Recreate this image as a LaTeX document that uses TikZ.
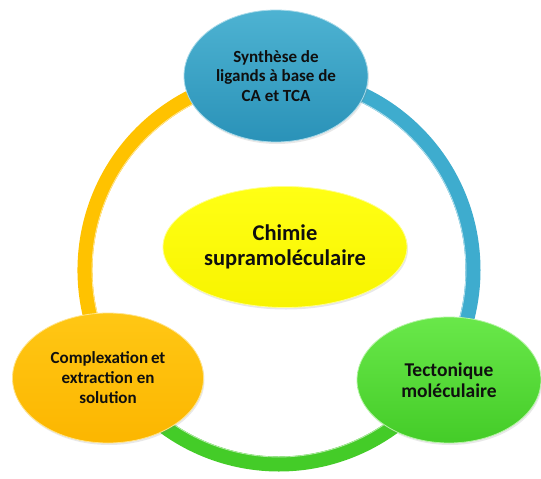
\documentclass[tikz,border=0pt]{standalone}
\usepackage{fontspec}
\setmainfont{Carlito}
\usetikzlibrary{shapes.geometric, shadows}
\definecolor{synblue}{RGB}{62, 172, 206}
\definecolor{synbluedk}{RGB}{42, 146, 184}
\definecolor{tecgreen}{RGB}{92, 230, 58}
\definecolor{tecgreendk}{RGB}{68, 204, 40}
\definecolor{comporange}{RGB}{255, 194, 0}
\definecolor{comporangedk}{RGB}{252, 182, 0}
\definecolor{chimyellow}{RGB}{255, 255, 0}
\definecolor{chimyellowdk}{RGB}{248, 244, 0}
\definecolor{inktext}{RGB}{15, 15, 15}
\tikzset{
  bubble/.style 2 args={ellipse, inner sep=0pt, align=center, text=inktext,
                        top color=#1!92!white, bottom color=#2, draw=white!55!#1, line width=0.8pt,
                        drop shadow={opacity=0.18, shadow xshift=1pt, shadow yshift=-2pt}},
  ringseg/.style={line width=15pt, color=#1},
  ringglow/.style={line width=0.8pt, color=white!60!#1},
}

\begin{document}
\begin{tikzpicture}[x=1pt, y=1pt]
  \useasboundingbox (0,0) rectangle (541,-479);
  \fill[white] (0,0) rectangle (541,-479);
  \coordinate (hub) at (279,-270);

  % ring
  \draw[ringseg=synblue] ([shift={(90:194)}]hub) arc[start angle=90, end angle=-33, radius=194];
  \draw[ringseg=tecgreendk] ([shift={(-33:194)}]hub) arc[start angle=-33, end angle=-148, radius=194];
  \draw[ringseg=comporange] ([shift={(-148:194)}]hub) arc[start angle=-148, end angle=-270, radius=194];
  \draw[ringglow=synblue] ([shift={(90:187)}]hub) arc[start angle=90, end angle=-33, radius=187];
  \draw[ringglow=tecgreendk] ([shift={(-33:187)}]hub) arc[start angle=-33, end angle=-148, radius=187];
  \draw[ringglow=comporange] ([shift={(-148:187)}]hub) arc[start angle=-148, end angle=-270, radius=187];

  % bubbles
  \node[bubble={synblue}{synbluedk}, minimum width=184, minimum height=132,
        font=\fontsize{17}{19.5}\selectfont\bfseries] (synth) at (276,-76)
        {Synthèse de\\ligands à base de\\CA et TCA};
  \node[bubble={tecgreen}{tecgreendk}, minimum width=184, minimum height=126,
        font=\fontsize{19.5}{21.5}\selectfont\bfseries] (tecto) at (449,-380)
        {Tectonique\\moléculaire};
  \node[bubble={comporange}{comporangedk}, minimum width=191, minimum height=130,
        font=\fontsize{17}{20}\selectfont\bfseries] (compl) at (108,-378)
        {Complexation\,et\\extraction en\\solution};
  \node[bubble={chimyellow}{chimyellowdk}, minimum width=244, minimum height=121,
        font=\fontsize{22.5}{24.5}\selectfont\bfseries] (chim) at (285,-247)
        {Chimie\\supramoléculaire};
\end{tikzpicture}
\end{document}
